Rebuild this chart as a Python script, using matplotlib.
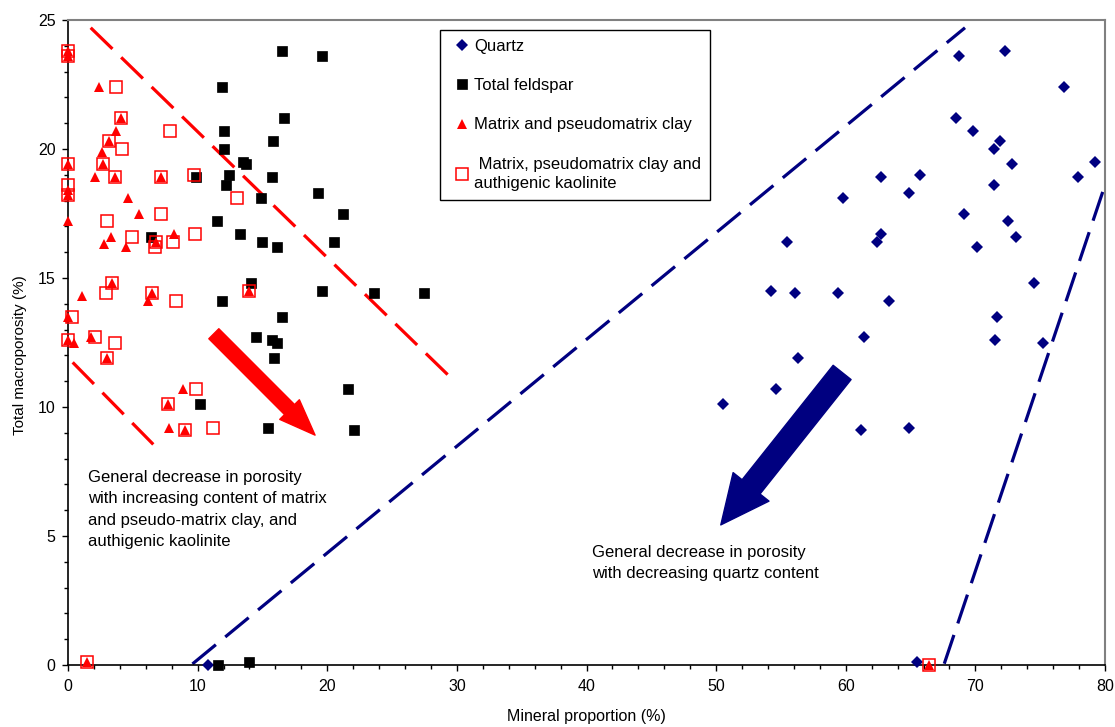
import numpy as np
import matplotlib
matplotlib.use("Agg")
import matplotlib.pyplot as plt
from matplotlib.patches import FancyArrowPatch, ArrowStyle
from matplotlib.ticker import MultipleLocator

plt.rcParams['font.family'] = ['Liberation Sans', 'DejaVu Sans']

# quartz (blue diamonds)
quartz_x = [68.7, 72.3, 76.8, 68.5, 69.8, 71.9, 71.4, 72.8, 79.2, 62.7, 65.7, 77.9, 64.9, 71.4,
            59.8, 69.1, 72.5, 73.1, 70.1, 55.5, 62.7, 62.4, 74.5, 54.2, 56.1, 59.4, 63.3, 71.7,
            71.5, 75.2, 61.4, 56.3, 54.6, 50.5, 61.2, 64.9, 10.8, 65.5]
quartz_y = [23.6, 23.8, 22.4, 21.2, 20.7, 20.3, 20.0, 19.4, 19.5, 18.9, 19.0, 18.9, 18.3, 18.6,
            18.1, 17.5, 17.2, 16.6, 16.2, 16.4, 16.7, 16.4, 14.8, 14.5, 14.4, 14.4, 14.1, 13.5,
            12.6, 12.5, 12.7, 11.9, 10.7, 10.1, 9.1, 9.2, 0.0, 0.1]

# total feldspar (black squares)
feld_x = [16.5, 19.6, 11.9, 16.7, 12.0, 15.8, 12.0, 13.5, 13.7, 12.4, 9.9, 15.7, 12.2, 19.3,
          14.9, 21.2, 11.5, 13.3, 6.4, 15.0, 16.1, 20.5, 14.1, 19.6, 23.6, 27.5, 11.9, 16.5,
          14.5, 15.7, 16.1, 15.9, 21.6, 10.2, 15.4, 22.1, 11.6, 14.0]
feld_y = [23.8, 23.6, 22.4, 21.2, 20.7, 20.3, 20.0, 19.5, 19.4, 19.0, 18.9, 18.9, 18.6, 18.3,
          18.1, 17.5, 17.2, 16.7, 16.6, 16.4, 16.2, 16.4, 14.8, 14.5, 14.4, 14.4, 14.1, 13.5,
          12.7, 12.6, 12.5, 11.9, 10.7, 10.1, 9.2, 9.1, 0.0, 0.1]

# matrix and pseudomatrix clay (red triangles)
clay_x = [0, 0, 2.4, 4.1, 3.7, 3.2, 2.6, 2.7, 0, 2.1, 3.6, 7.2, 0, 0, 4.6, 5.5, 0, 3.3, 2.8,
          4.5, 6.8, 8.2, 3.4, 1.1, 6.5, 6.2, 14.0, 0, 0, 0.5, 1.8, 3.0, 8.9, 7.7, 7.8, 9.0,
          1.5, 66.4]
clay_y = [23.8, 23.6, 22.4, 21.2, 20.7, 20.3, 19.9, 19.4, 19.4, 18.9, 18.9, 18.9, 18.4, 18.2,
          18.1, 17.5, 17.2, 16.6, 16.3, 16.2, 16.4, 16.7, 14.8, 14.3, 14.4, 14.1, 14.5, 13.5,
          12.6, 12.5, 12.7, 11.9, 10.7, 10.1, 9.2, 9.1, 0.1, 0.0]

# matrix, pseudomatrix clay and authigenic kaolinite (open red squares)
kaol_x = [0, 0, 3.7, 4.1, 7.9, 3.2, 4.2, 2.7, 0, 3.6, 7.2, 9.7, 0, 0, 13.0, 7.2, 3.0, 4.9,
          6.8, 6.7, 8.1, 9.8, 3.4, 2.9, 6.5, 8.3, 14.0, 0.3, 0, 2.1, 3.6, 3.0, 9.9, 7.7, 9.0,
          11.2, 1.5, 66.4]
kaol_y = [23.8, 23.6, 22.4, 21.2, 20.7, 20.3, 20.0, 19.4, 19.4, 18.9, 18.9, 19.0, 18.6, 18.2,
          18.1, 17.5, 17.2, 16.6, 16.4, 16.2, 16.4, 16.7, 14.8, 14.4, 14.4, 14.1, 14.5, 13.5,
          12.6, 12.7, 12.5, 11.9, 10.7, 10.1, 9.1, 9.2, 0.1, 0.0]

# envelope lines and arrows
red_upper = ([1.75, 29.3], [24.7, 11.25])
red_lower = ([0.36, 6.58], [11.73, 8.55])
blue_left = ([9.6, 69.2], [0.04, 24.7])
blue_right = ([67.6, 80.0], [0.05, 18.6])
red_arrow = ((11.25, 12.84), (19.06, 8.91))
blue_arrow = ((59.72, 11.34), (50.36, 5.43))

fig = plt.figure(figsize=(11.15, 7.27), dpi=100)
ax = fig.add_axes([68 / 1115, 62 / 727, 1037 / 1115, 645 / 727])

navy = '#000080'
red = '#FF0000'

ax.plot(quartz_x, quartz_y, 'D', color=navy, ms=5.8, mew=0, label='Quartz', clip_on=False, zorder=3)
ax.plot(feld_x, feld_y, 's', color='black', ms=7.2, mew=0.5, label='Total feldspar', clip_on=False, zorder=3)
ax.plot(clay_x, clay_y, '^', color=red, ms=7.8, mew=0, label='Matrix and pseudomatrix clay',
        clip_on=False, zorder=4)
ax.plot(kaol_x, kaol_y, 's', mfc='none', mec=red, ms=9.0, mew=1.1,
        label=' Matrix, pseudomatrix clay and\nauthigenic kaolinite', clip_on=False, zorder=5)

for xs, ys, c in [(red_upper[0], red_upper[1], red), (red_lower[0], red_lower[1], red),
                  (blue_left[0], blue_left[1], navy), (blue_right[0], blue_right[1], navy)]:
    ln, = ax.plot(xs, ys, color=c, lw=2.3, zorder=2)
    ln.set_dashes((9.5, 3.8))

ax.add_patch(FancyArrowPatch(red_arrow[0], red_arrow[1],
                             arrowstyle=ArrowStyle.Simple(head_length=26, head_width=20, tail_width=10.2),
                             color=red, mutation_scale=1, shrinkA=0, shrinkB=0, zorder=6))
ax.add_patch(FancyArrowPatch(blue_arrow[0], blue_arrow[1],
                             arrowstyle=ArrowStyle.Simple(head_length=35, head_width=33, tail_width=16.5),
                             color=navy, mutation_scale=1, shrinkA=0, shrinkB=0, zorder=6))

ax.text(1.54, 7.55, "General decrease in porosity\nwith increasing content of matrix\n"
        "and pseudo-matrix clay, and\nauthigenic kaolinite",
        fontsize=12, va='top', ha='left', linespacing=1.52)
ax.text(40.4, 4.65, "General decrease in porosity\nwith decreasing quartz content",
        fontsize=12, va='top', ha='left', linespacing=1.52)

ax.set_xlim(0, 80)
ax.set_ylim(0, 25)
ax.xaxis.set_major_locator(MultipleLocator(10))
ax.xaxis.set_minor_locator(MultipleLocator(2))
ax.yaxis.set_major_locator(MultipleLocator(5))
ax.yaxis.set_minor_locator(MultipleLocator(1))
ax.tick_params(which='major', direction='out', length=4, width=1, labelsize=11.5, color='black')
ax.tick_params(which='minor', direction='out', length=3, width=1, color='black')
ax.tick_params(axis='x', pad=6)
ax.tick_params(axis='y', pad=5)

for s in ['top', 'right']:
    ax.spines[s].set_color('#808080')
    ax.spines[s].set_linewidth(1.5)
for s in ['left', 'bottom']:
    ax.spines[s].set_color('black')
    ax.spines[s].set_linewidth(1.2)

ax.set_xlabel("Mineral proportion (%)", fontsize=11.5)
ax.set_ylabel("Total macroporosity (%)", fontsize=11)
ax.xaxis.set_label_coords(0.5, -0.068)
ax.yaxis.set_label_coords(-0.04, 0.48)

leg = ax.legend(loc='upper left', bbox_to_anchor=(0.3587, 0.9845), fontsize=12,
                frameon=True, fancybox=False, edgecolor='black', framealpha=1,
                borderpad=0.55, handlelength=1.5, handletextpad=0.0, labelspacing=1.45,
                borderaxespad=0, numpoints=1)
leg.get_frame().set_linewidth(1.0)
leg.get_texts()[3].set_linespacing(1.35)

plt.savefig("out.png", dpi=100)
plt.close()
